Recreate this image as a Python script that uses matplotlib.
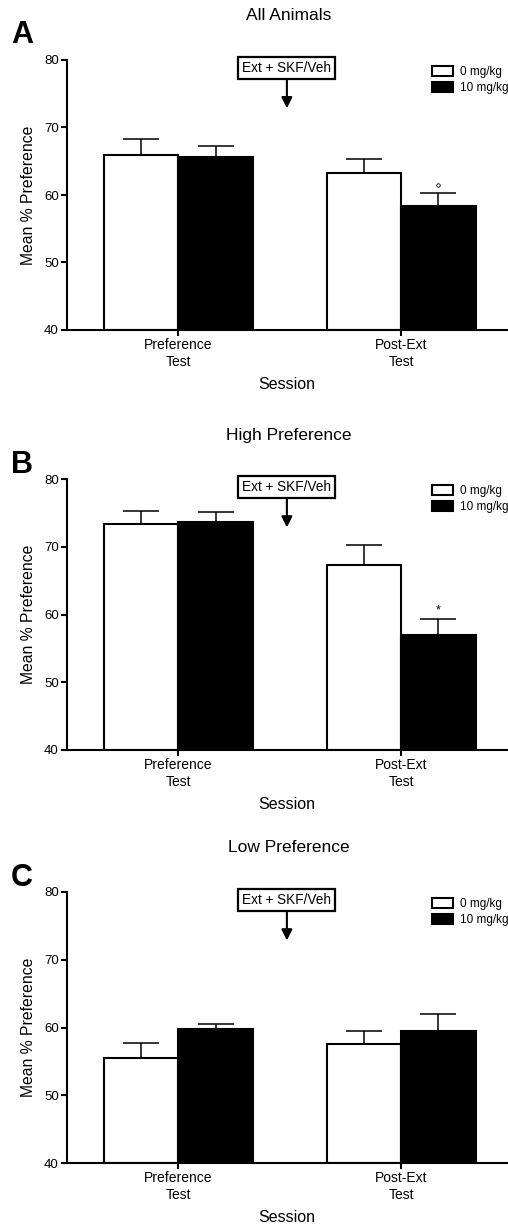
import matplotlib
matplotlib.use("Agg")
import matplotlib.pyplot as plt
import numpy as np

plt.rcParams["font.family"] = ["Liberation Sans", "DejaVu Sans"]

sessions = ["Preference\nTest", "Post-Ext\nTest"]
doses = ["0 mg/kg", "10 mg/kg"]
panel_letters = ["A", "B", "C"]
panel_titles = ["All Animals", "High Preference", "Low Preference"]

# mean % preference per panel: [0 mg/kg, 10 mg/kg] x [pref test, post-ext test]
means_0 = [[65.9, 63.3], [73.35, 67.3], [55.5, 57.5]]
means_10 = [[65.7, 58.4], [73.7, 56.95], [59.8, 59.5]]
sem_0 = [[2.4, 2.1], [1.95, 2.9], [2.15, 2.05]]
sem_10 = [[1.6, 1.85], [1.4, 2.45], [0.75, 2.45]]
# significance mark above the 10 mg/kg post-ext bar
sig_marks = ["°", "*", ""]

fig = plt.figure(figsize=(5.08, 12.24), dpi=100)
W, H = 508, 1224

# axes boxes in pixels: (left, top, right, bottom)
boxes = [(67, 60, 507, 330), (67, 479, 507, 750), (67, 892, 507, 1163)]
title_y = [15, 435, 848]
letter_y = [35, 465, 878]

x = np.arange(len(sessions))
w = 0.335

for i in range(3):
    l, t, r, b = boxes[i]
    ax = fig.add_axes([l / W, 1 - b / H, (r - l) / W, (b - t) / H])
    ax.set_xlim(-0.5, 1.475)
    ax.set_ylim(40, 80)

    zeros = np.zeros(len(sessions))
    ax.errorbar(x - w / 2, means_0[i], yerr=[zeros, sem_0[i]], fmt="none",
                ecolor="black", elinewidth=1.1, capsize=13, capthick=1.1, zorder=1)
    ax.errorbar(x + w / 2, means_10[i], yerr=[zeros, sem_10[i]], fmt="none",
                ecolor="black", elinewidth=1.1, capsize=13, capthick=1.1, zorder=1)
    b0 = ax.bar(x - w / 2, np.array(means_0[i]) - 40, w, bottom=40, color="white",
                edgecolor="black", linewidth=1.5, label=doses[0], zorder=2)
    b1 = ax.bar(x + w / 2, np.array(means_10[i]) - 40, w, bottom=40, color="black",
                edgecolor="black", linewidth=1.5, label=doses[1], zorder=2)

    mark_y = means_10[i][1] + sem_10[i][1]
    if sig_marks[i] == "°":
        ax.plot(x[1] + w / 2, mark_y + 1.3, marker="o", ms=2.5, mfc="white",
                mec="black", mew=0.6, clip_on=False)
    elif sig_marks[i] == "*":
        ax.text(x[1] + w / 2, mark_y + 0.3, "*", ha="center", va="bottom", fontsize=9)

    ax.annotate("Ext + SKF/Veh", xy=(0.487, 72.85), xytext=(0.487, 78.8),
                ha="center", va="center", fontsize=9.8, annotation_clip=False,
                bbox=dict(boxstyle="square,pad=0.3", fc="white", ec="black", lw=1.6),
                arrowprops=dict(arrowstyle="-|>", color="black", lw=1.5,
                                mutation_scale=16, shrinkA=0, shrinkB=0))

    ax.legend(handles=[b0, b1], loc="upper left", bbox_to_anchor=(0.815, 1.0),
              frameon=False, fontsize=8.5, handlelength=1.8, handleheight=0.9,
              handletextpad=0.6, labelspacing=0.35, borderpad=0)

    for s in ["top", "right"]:
        ax.spines[s].set_visible(False)
    for s in ["left", "bottom"]:
        ax.spines[s].set_linewidth(1.5)

    ax.set_yticks([40, 50, 60, 70, 80])
    ax.set_xticks(x)
    ax.set_xticklabels(sessions)
    ax.tick_params(axis="y", labelsize=9.5, width=1.5, length=4, pad=2)
    ax.tick_params(axis="x", labelsize=10, width=1.5, length=4, pad=2)
    ax.set_ylabel("Mean % Preference", fontsize=11.3, labelpad=6)
    ax.set_xlabel("Session", fontsize=11.5, labelpad=6)

    fig.text(289 / W, 1 - title_y[i] / H, panel_titles[i], ha="center", va="center",
             fontsize=12.5)
    fig.text(22 / W, 1 - letter_y[i] / H, panel_letters[i], ha="center", va="center",
             fontsize=22, fontweight="bold")

fig.savefig("out.png", dpi=100)
